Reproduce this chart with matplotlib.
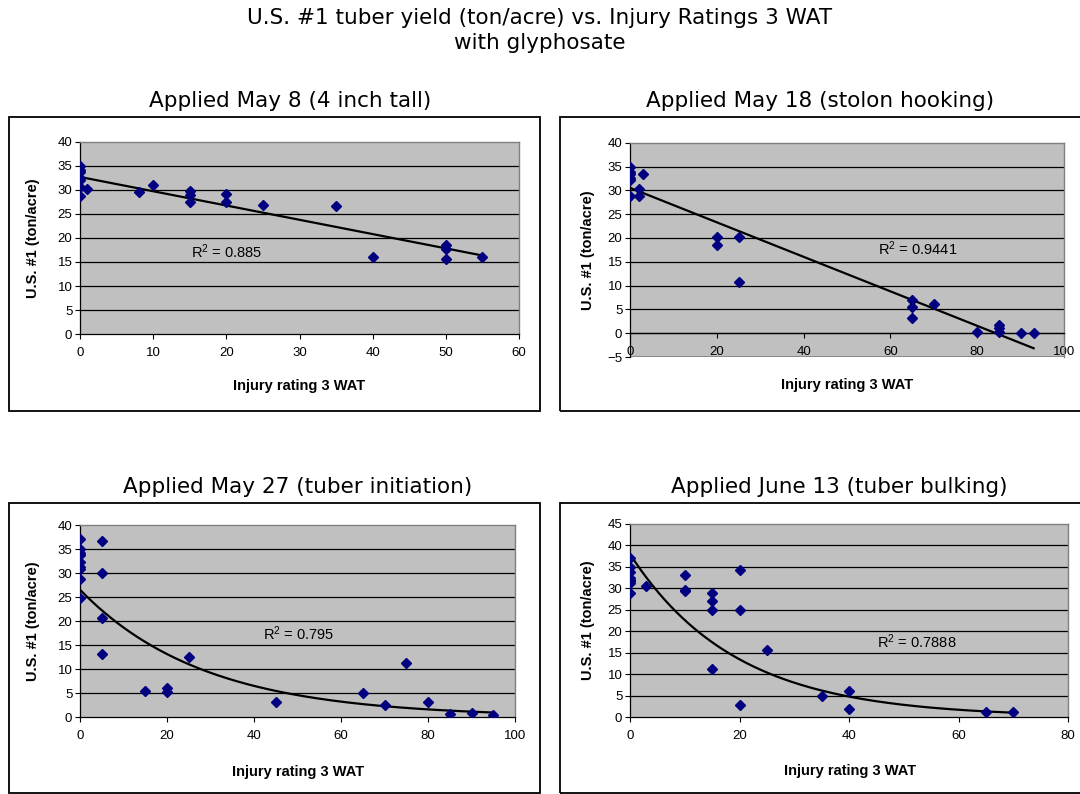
import numpy as np
import matplotlib
matplotlib.use("Agg")
import matplotlib.pyplot as plt
from matplotlib.patches import Rectangle

plt.rcParams["mathtext.default"] = "regular"

# ---------------- data ----------------
main_title = ["U.S. #1 tuber yield (ton/acre) vs. Injury Ratings 3 WAT", "with glyphosate"]
panel_titles = ["Applied May 8 (4 inch tall)", "Applied May 18 (stolon hooking)",
                "Applied May 27 (tuber initiation)", "Applied June 13 (tuber bulking)"]
x_label = "Injury rating 3 WAT"
y_label = "U.S. #1 (ton/acre)"
r2_labels = ["0.885", "0.9441", "0.795", "0.7888"]
trend_kinds = ["linear", "linear", "exp", "exp"]

may8_injury = [0, 0, 0, 0, 0, 0, 0, 1, 8, 10, 15, 15, 15, 20, 20, 25, 35, 40, 50, 50, 50, 55]
may8_yield = [34.9, 34.2, 33.7, 32.5, 32.1, 30.7, 28.7, 30.2, 29.5, 31.0, 29.8, 29.0, 27.5,
              29.1, 27.6, 26.8, 26.6, 16.1, 18.5, 17.8, 15.7, 16.1]

may18_injury = [0, 0, 0, 0, 0, 0, 2, 2, 3, 20, 20, 25, 25, 65, 65, 65, 70, 80, 85, 85, 85, 90, 93]
may18_yield = [35.0, 33.9, 33.4, 32.5, 32.2, 28.8, 30.2, 28.8, 33.5, 20.3, 18.5, 20.2, 10.7,
               7.0, 5.6, 3.1, 6.2, 0.3, 1.8, 1.0, 0.3, 0.0, 0.0]

may27_injury = [0, 0, 0, 0, 0, 0, 0, 0, 0, 5, 5, 5, 5, 15, 20, 20, 25, 45, 65, 70, 75, 80, 85, 90, 95]
may27_yield = [37.1, 35.0, 34.2, 33.7, 32.2, 31.3, 30.8, 28.7, 24.7, 36.6, 30.1, 20.6, 13.1,
               5.5, 6.05, 5.15, 12.5, 3.06, 5.1, 2.6, 11.3, 3.06, 0.6, 0.9, 0.4]

jun13_injury = [0, 0, 0, 0, 0, 0, 0, 0, 3, 10, 10, 10, 15, 15, 15, 15, 20, 20, 20, 25, 35, 40, 40, 65, 70]
jun13_yield = [37.1, 34.9, 33.8, 32.4, 32.0, 31.6, 31.2, 28.8, 30.5, 33.2, 29.6, 29.3, 28.8,
               27.1, 24.9, 11.1, 34.3, 24.9, 2.7, 15.7, 4.9, 6.1, 1.9, 1.25, 1.1]

xs_all = [may8_injury, may18_injury, may27_injury, jun13_injury]
ys_all = [may8_yield, may18_yield, may27_yield, jun13_yield]
x_ticks = [list(range(0, 61, 10)), list(range(0, 101, 20)), list(range(0, 101, 20)), list(range(0, 81, 20))]
y_ticks = [list(range(0, 41, 5)), list(range(-5, 41, 5)), list(range(0, 41, 5)), list(range(0, 46, 5))]

# ---------------- layout (pixels) ----------------
W, H = 1080, 794
fig = plt.figure(figsize=(W / 100, H / 100), dpi=100)
fig.patch.set_facecolor("white")

def fx(px):
    return px / W

def fy(py):
    return 1 - py / H

axes_px = [(80, 142, 519, 334), (630, 142.7, 1064, 357), (80, 525, 515, 717), (630, 524, 1068, 717)]
boxes_px = [(9, 117, 540, 411), (560, 117, 1085, 411), (9, 503, 540, 793), (560, 503, 1085, 793)]
title_pos = [(290, 101), (820, 101), (298, 487), (839, 487)]
xlabel_pos = [(299, 386), (847, 385), (298, 772), (850, 771)]
ylabel_x = [33, 588, 33, 588]
r2_pos = [(15.2, 17.2), (57.2, 17.8), (42.1, 17.4), (45.1, 17.6)]

title_font = "DejaVu Sans"
body_font = "Liberation Sans"
title_size = 15.5

fig.text(fx(540), fy(18), main_title[0], ha="center", va="center", fontsize=title_size, family=title_font)
fig.text(fx(540), fy(43), main_title[1], ha="center", va="center", fontsize=title_size, family=title_font)

for i in range(4):
    bx0, by0, bx1, by1 = boxes_px[i]
    fig.patches.append(Rectangle((fx(bx0), fy(by1)), fx(bx1 - bx0), (by1 - by0) / H,
                                 transform=fig.transFigure, fill=False, edgecolor="black",
                                 linewidth=1.3, zorder=0))
    x0, y0, x1, y1 = axes_px[i]
    ax = fig.add_axes([fx(x0), fy(y1), fx(x1 - x0), (y1 - y0) / H])
    ax.set_facecolor("#C0C0C0")
    xt, yt = x_ticks[i], y_ticks[i]
    ax.set_xlim(xt[0], xt[-1])
    ax.set_ylim(yt[0], yt[-1])
    ax.set_xticks(xt)
    ax.set_yticks(yt)
    ax.set_axisbelow(True)
    for yv in yt:
        if yv != yt[0] and yv != yt[-1]:
            ax.axhline(yv, color="black", linewidth=0.9, zorder=1)
    for s in ["top", "right"]:
        ax.spines[s].set_color("#808080")
        ax.spines[s].set_linewidth(1.0)
    ax.spines["left"].set_color("black")
    ax.spines["left"].set_linewidth(0.9)
    ax.spines["bottom"].set_color("black")
    ax.spines["bottom"].set_linewidth(0.9)
    if yt[0] < 0:
        ax.spines["bottom"].set_position(("data", 0))
        ax.axhline(yt[0], color="#808080", linewidth=1.2, zorder=1)
    ax.tick_params(axis="both", direction="out", length=3.5, width=0.8, labelsize=9.5, colors="black")
    ax.tick_params(axis="x", pad=6)
    ax.tick_params(axis="y", pad=2)
    for lab in ax.get_xticklabels() + ax.get_yticklabels():
        lab.set_family(body_font)

    x = np.array(xs_all[i], dtype=float)
    y = np.array(ys_all[i], dtype=float)
    ax.plot(x, y, linestyle="none", marker="D", markersize=5, color="#000080", zorder=4)

    xx = np.linspace(x.min(), x.max(), 200)
    if trend_kinds[i] == "linear":
        b, a = np.polyfit(x, y, 1)
        yy = a + b * xx
    else:
        b, la = np.polyfit(x, np.log(y), 1)
        yy = np.exp(la) * np.exp(b * xx)
    ax.plot(xx, yy, color="black", linewidth=1.6, zorder=3)

    ax.text(r2_pos[i][0], r2_pos[i][1], r"R$^{2}$ = " + r2_labels[i], ha="left", va="center",
            fontsize=10.5, family=body_font, zorder=5)

    fig.text(fx(title_pos[i][0]), fy(title_pos[i][1]), panel_titles[i], ha="center", va="center",
             fontsize=title_size, family=title_font)
    fig.text(fx(xlabel_pos[i][0]), fy(xlabel_pos[i][1]), x_label, ha="center", va="center",
             fontsize=10.5, fontweight="bold", family=body_font)
    fig.text(fx(ylabel_x[i]), fy((y0 + y1) / 2), y_label, ha="center", va="center", rotation=90,
             fontsize=10.5, fontweight="bold", family=body_font)

fig.savefig("out.png", dpi=100)
